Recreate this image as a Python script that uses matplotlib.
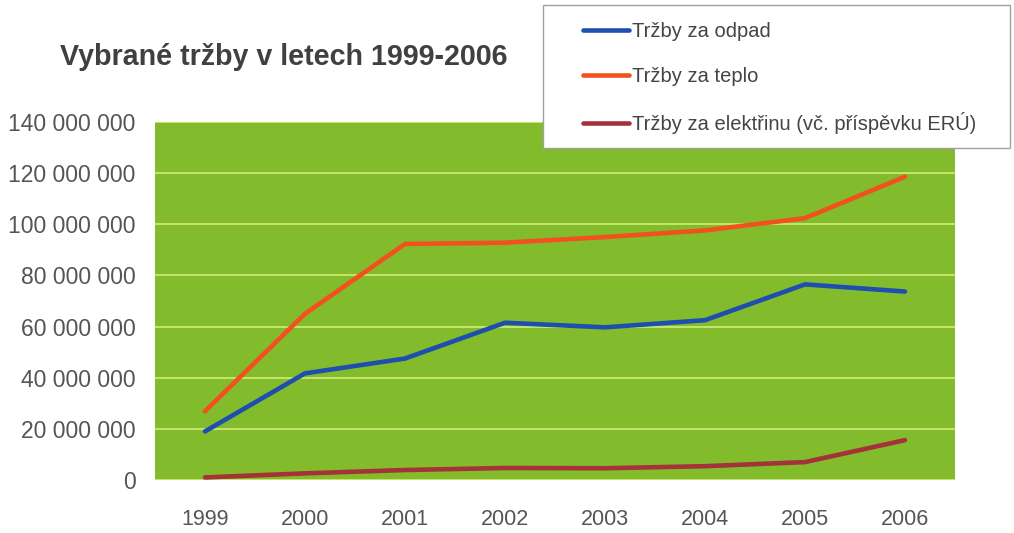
import matplotlib.pyplot as plt
from matplotlib.patches import Rectangle
from matplotlib.ticker import FuncFormatter

plt.rcParams['font.family'] = ['Liberation Sans', 'DejaVu Sans']

# data (CZK)
years = ['1999', '2000', '2001', '2002', '2003', '2004', '2005', '2006']
odpad = [19.0e6, 41.7e6, 47.5e6, 61.5e6, 59.7e6, 62.5e6, 76.5e6, 73.7e6]
teplo = [26.9e6, 65.0e6, 92.3e6, 92.8e6, 95.0e6, 97.6e6, 102.4e6, 118.6e6]
elektrina = [1.0e6, 2.6e6, 3.9e6, 4.7e6, 4.6e6, 5.4e6, 7.0e6, 15.6e6]
labels = ['Tržby za odpad', 'Tržby za teplo',
          'Tržby za elektřinu (vč. příspěvku ERÚ)']
colors = ['#1d4eb0', '#f2501e', '#a3323a']

fig = plt.figure(figsize=(10.14, 5.33), dpi=100)
ax = fig.add_axes([155/1014, 1 - 480/533, 800/1014, 358/533])
ax.set_facecolor('#82bc2c')

x = range(len(years))
lines = []
for vals, col, lab in zip([odpad, teplo, elektrina], colors, labels):
    ln, = ax.plot(x, vals, color=col, lw=3.3, solid_capstyle='round',
                  solid_joinstyle='round', label=lab, zorder=3)
    lines.append(ln)

ax.set_xlim(-0.5, len(years) - 0.5)
ax.set_ylim(0, 140e6)
ax.set_yticks(range(0, 140000001, 20000000))
ax.yaxis.set_major_formatter(FuncFormatter(lambda v, p: f'{int(v):,}'.replace(',', ' ')))
ax.set_xticks(list(x))
ax.set_xticklabels(years)
ax.grid(axis='y', color='#d2ec78', lw=1.2, zorder=1)
ax.set_axisbelow(True)
for s in ax.spines.values():
    s.set_visible(False)
ax.tick_params(length=0, labelcolor='#555555')
ax.tick_params(axis='y', pad=14, labelsize=16.5)
ax.tick_params(axis='x', pad=21, labelsize=15.5)

fig.text(60/1014, 1 - 57/533, 'Vybrané tržby v letech 1999-2006',
         fontsize=20.6, fontweight='bold', color='#404040', va='center', ha='left')

# legend box
box = Rectangle((543/1014, 1 - 148/533), 467/1014, 143/533,
                transform=fig.transFigure, facecolor='white',
                edgecolor='#a0a0a0', lw=1, zorder=4)
fig.patches.append(box)
fig.legend(handles=lines, loc='upper left',
           bbox_to_anchor=(573/1014, 1 - 12/533), frameon=False,
           fontsize=14.5, labelcolor='#444444', handlelength=2.3,
           handletextpad=0.15, labelspacing=1.3, borderpad=0)

plt.savefig('out.png', dpi=100)
